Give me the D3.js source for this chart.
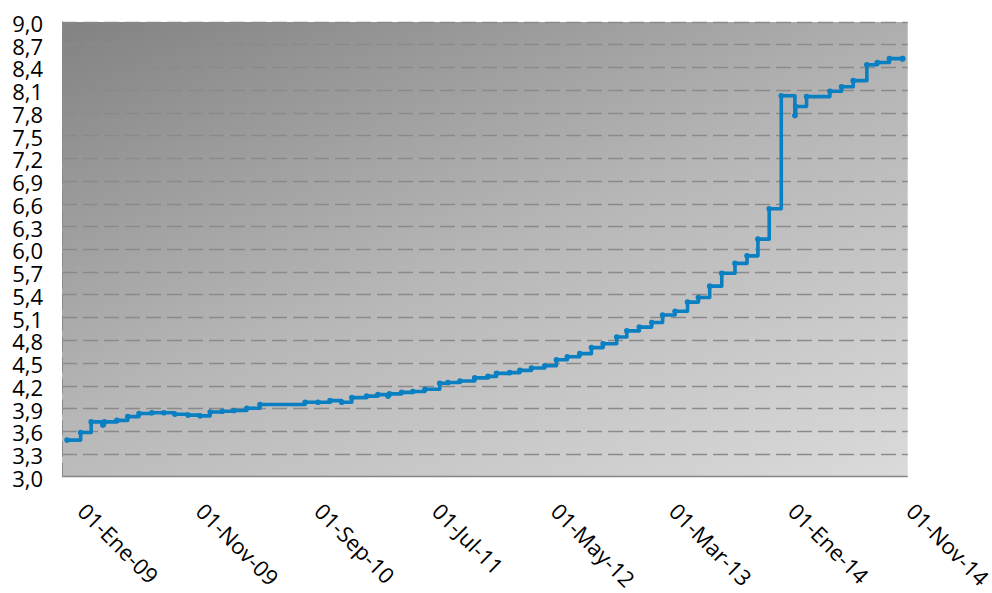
<!DOCTYPE html>
<html>
<head>
<meta charset="utf-8">
<script src="https://cdn.jsdelivr.net/npm/d3@7"></script>
<style>
  html, body { margin: 0; padding: 0; background: #fff; }
  svg { display: block; font-family: "Open Sans", "Noto Sans", sans-serif; }
</style>
</head>
<body>
<svg id="chart" width="992" height="593"></svg>
<script>
// Series: date of each change and the value from that date on
const dates = [
  "2008-12-01","2009-01-05","2009-02-01","2009-03-03","2009-03-07","2009-04-08",
  "2009-05-06","2009-06-04","2009-07-07","2009-08-07","2009-09-04","2009-10-08",
  "2009-11-08","2009-12-04","2010-01-04","2010-02-03","2010-03-08","2010-04-11",
  "2010-08-05","2010-09-07","2010-10-08","2010-11-07","2010-12-03","2011-01-10",
  "2011-02-08","2011-03-06","2011-03-10","2011-04-10","2011-05-09","2011-06-09",
  "2011-07-17","2011-08-07","2011-09-07","2011-10-15","2011-11-18","2011-12-10",
  "2012-01-13","2012-02-08","2012-03-09","2012-04-12","2012-05-12","2012-06-09",
  "2012-07-11","2012-08-10","2012-09-09","2012-10-14","2012-11-09","2012-12-11",
  "2013-01-12","2013-02-09","2013-03-13","2013-04-14","2013-05-12","2013-06-10",
  "2013-07-11","2013-08-14","2013-09-14","2013-10-12","2013-11-10","2013-12-11",
  "2014-01-15","2014-01-17","2014-02-14","2014-04-15","2014-05-15","2014-06-14",
  "2014-07-19","2014-08-15","2014-09-15","2014-10-19"
];
const values = [
  3.48, 3.58, 3.72, 3.68, 3.72, 3.74,
  3.79, 3.83, 3.84, 3.84, 3.82, 3.81,
  3.80, 3.85, 3.86, 3.87, 3.90, 3.95,
  3.98, 3.98, 4.00, 3.98, 4.04, 4.06,
  4.08, 4.06, 4.09, 4.11, 4.12, 4.15,
  4.23, 4.24, 4.26, 4.30, 4.32, 4.36,
  4.37, 4.40, 4.43, 4.46, 4.54, 4.58,
  4.62, 4.70, 4.75, 4.84, 4.92, 4.97,
  5.03, 5.13, 5.18, 5.30, 5.36, 5.51,
  5.68, 5.81, 5.91, 6.13, 6.53, 8.02,
  7.76, 7.88, 8.01, 8.08, 8.14, 8.22,
  8.43, 8.46, 8.51, 8.51
];
const endDate = "2014-10-19";

// Axis ticks
const xTickDates = ["2009-01-01","2009-11-01","2010-09-01","2011-07-01",
                    "2012-05-01","2013-03-01","2014-01-01","2014-11-01"];
const xTickLabels = ["01-Ene-09","01-Nov-09","01-Sep-10","01-Jul-11",
                     "01-May-12","01-Mar-13","01-Ene-14","01-Nov-14"];
const yTicks = [3.0,3.3,3.6,3.9,4.2,4.5,4.8,5.1,5.4,5.7,6.0,6.3,6.6,6.9,7.2,7.5,7.8,8.1,8.4,8.7,9.0];
const xDomain = ["2008-11-18","2014-11-01"];
const yDomain = [3.0, 9.0];

const parse = d3.utcParse("%Y-%m-%d");
const data = dates.map((d, i) => ({ date: parse(d), value: values[i] }));

const svg = d3.select("#chart");
const plot = { left: 62, right: 907.7, top: 21.5, bottom: 476.5 };

const x = d3.scaleUtc().domain(xDomain.map(parse)).range([plot.left, plot.right]);
const y = d3.scaleLinear().domain(yDomain).range([plot.bottom, plot.top]);

// Plot-area gradient fill
const defs = svg.append("defs");
const grad = defs.append("linearGradient")
  .attr("id", "plotFill")
  .attr("x1", 0).attr("y1", 0).attr("x2", 0.85).attr("y2", 1.15);
grad.append("stop").attr("offset", 0).attr("stop-color", "#828282");
grad.append("stop").attr("offset", 0.5).attr("stop-color", "#b7b7b7");
grad.append("stop").attr("offset", 1).attr("stop-color", "#dcdcdc");

svg.append("rect")
  .attr("x", plot.left).attr("y", plot.top + 0.5)
  .attr("width", plot.right - plot.left)
  .attr("height", plot.bottom - plot.top - 0.5)
  .attr("fill", "url(#plotFill)");

// Horizontal dashed gridlines
svg.append("g")
  .selectAll("line")
  .data(yTicks.filter(v => v > yDomain[0]))
  .join("line")
  .attr("x1", plot.left).attr("x2", plot.right)
  .attr("y1", d => Math.round(y(d)) + 0.5).attr("y2", d => Math.round(y(d)) + 0.5)
  .attr("stroke", "#8a8a8a")
  .attr("stroke-width", 1.3)
  .attr("stroke-dasharray", "15,6");

// Left edge
svg.append("line")
  .attr("x1", plot.left + 0.5).attr("x2", plot.left + 0.5)
  .attr("y1", plot.top).attr("y2", plot.bottom)
  .attr("stroke", "#8a8a8a")
  .attr("stroke-width", 1)
  .attr("stroke-dasharray", "15,6");

// Bottom axis line
svg.append("line")
  .attr("x1", plot.left).attr("x2", plot.right)
  .attr("y1", plot.bottom).attr("y2", plot.bottom)
  .attr("stroke", "#858585")
  .attr("stroke-width", 1.5);

// Y axis labels
const fmt = d3.format(".1f");
const yAxis = d3.axisLeft(y)
  .tickValues(yTicks)
  .tickSize(0)
  .tickPadding(0)
  .tickFormat(d => fmt(d).replace(".", ","));
const yg = svg.append("g")
  .attr("transform", `translate(${43},0)`)
  .call(yAxis);
yg.select(".domain").remove();
yg.selectAll("text")
  .attr("font-size", 22)
  .attr("font-family", "'Open Sans', sans-serif")
  .attr("fill", "#000")
  .attr("dy", "0.45em");

// X axis labels, rotated
const xg = svg.append("g");
xg.selectAll("text")
  .data(xTickDates.map((d, i) => ({ date: parse(d), label: xTickLabels[i] })))
  .join("text")
  .attr("transform", d => `translate(${x(d.date) - 3},${513}) rotate(45)`)
  .attr("text-anchor", "start")
  .attr("font-size", 22)
  .attr("font-family", "'Open Sans', sans-serif")
  .attr("fill", "#000")
  .text(d => d.label);

// Series line (stepped)
const series = data.concat([{ date: parse(endDate), value: values[values.length - 1] }]);
const line = d3.line()
  .x(d => x(d.date))
  .y(d => y(d.value))
  .curve(d3.curveStepAfter);

svg.append("path")
  .datum(series)
  .attr("fill", "none")
  .attr("stroke", "#0a7fc2")
  .attr("stroke-width", 3.6)
  .attr("stroke-linejoin", "round")
  .attr("d", line);

svg.append("g")
  .selectAll("circle")
  .data(series)
  .join("circle")
  .attr("cx", d => x(d.date))
  .attr("cy", d => y(d.value))
  .attr("r", 2.8)
  .attr("fill", "#0a7fc2");
</script>
</body>
</html>
